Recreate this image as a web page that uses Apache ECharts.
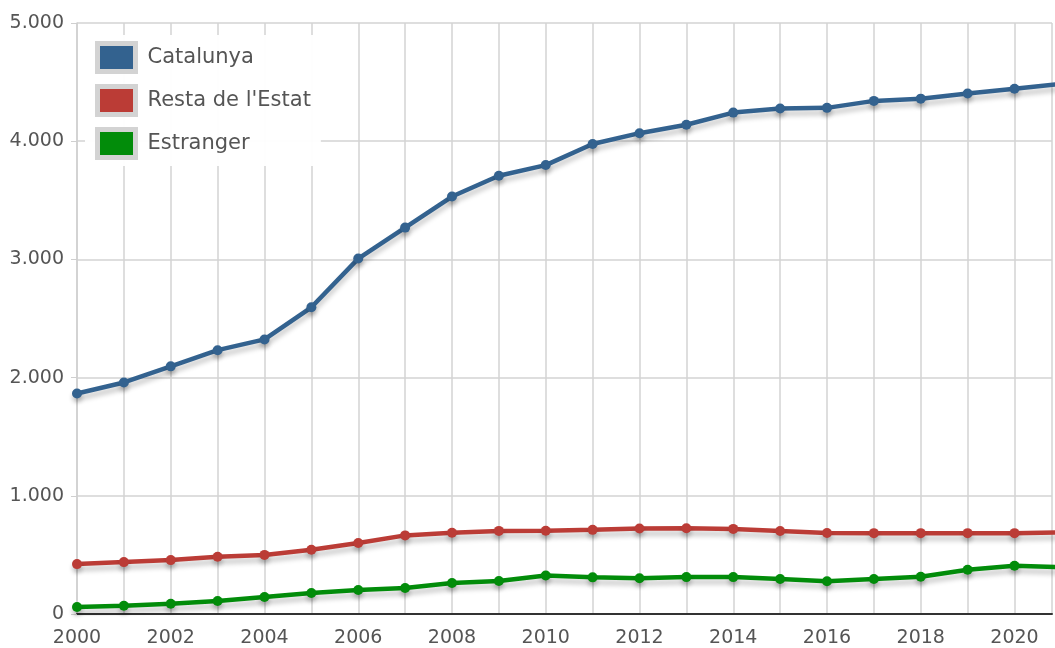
<!DOCTYPE html>
<html>
<head>
<meta charset="utf-8">
<script src="https://cdn.jsdelivr.net/npm/echarts@6/dist/echarts.min.js"></script>
<style>
html,body{margin:0;padding:0;background:#fff;}
#chart{width:1055px;height:648px;}
</style>
</head>
<body>
<div id="chart"></div>
<script>
const years = [2000,2001,2002,2003,2004,2005,2006,2007,2008,2009,2010,2011,2012,2013,2014,2015,2016,2017,2018,2019,2020,2021];
const catalunya = [1866,1959,2095,2232,2323,2595,3007,3269,3532,3708,3798,3976,4068,4139,4242,4276,4282,4341,4360,4403,4443,4485];
const restaEstat = [422,439,456,484,500,543,600,665,687,703,705,712,724,726,720,702,686,684,684,684,684,690];
const estranger = [59,70,87,110,144,177,203,220,262,279,326,310,302,312,312,296,277,296,315,375,408,395];
const seriesNames = ['Catalunya', "Resta de l'Estat", 'Estranger'];
const seriesColors = ['#33628f', '#bb3c36', '#028c0a'];
const seriesData = [catalunya, restaEstat, estranger];

function fmt(v){ return String(v).replace(/\B(?=(\d{3})+(?!\d))/g, '.'); }

const chart = echarts.init(document.getElementById('chart'), null, {renderer:'canvas'});
const font = 'DejaVu Sans, Verdana, sans-serif';

chart.setOption({
  animation: false,
  backgroundColor: '#fff',
  grid: {left: 77, right: 0, top: 23, bottom: 33, containLabel: false},
  legend: {
    orient: 'vertical', left: 85, top: 35,
    padding: [6, 10, 6, 10],
    backgroundColor: 'rgba(255,255,255,0.95)',
    itemWidth: 38, itemHeight: 28, itemGap: 10,
    icon: 'rect',
    itemStyle: {borderColor: '#d3d3d3', borderWidth: 5},
    textStyle: {fontFamily: font, fontSize: 21, color: '#555', padding: [0,0,0,7]},
    data: seriesNames
  },
  xAxis: {
    type: 'value', min: 2000, max: 2020.8, interval: 1,
    axisLine: {show: true, onZero: false, lineStyle: {color: '#333', width: 2}},
    axisTick: {show: false},
    splitLine: {show: true, lineStyle: {color: '#d3d3d3', width: 1.5}},
    axisLabel: {
      fontFamily: font, fontSize: 19, color: '#555', margin: 15,
      formatter: v => (Number.isInteger(v) && v % 2 === 0) ? String(v) : ''
    }
  },
  yAxis: {
    type: 'value', min: 0, max: 5000, interval: 1000,
    axisLine: {show: true, lineStyle: {color: '#cfcfcf', width: 1.5}},
    axisTick: {show: true, length: 6, lineStyle: {color: '#cfcfcf'}},
    splitLine: {show: true, lineStyle: {color: '#d3d3d3', width: 1.5}},
    axisLabel: {fontFamily: font, fontSize: 19, color: '#555', margin: 13, formatter: v => fmt(v)}
  },
  series: seriesNames.map((name, i) => ({
    name: name,
    type: 'line',
    data: years.map((y, j) => [y, seriesData[i][j]]),
    color: seriesColors[i],
    symbol: 'circle', symbolSize: 10,
    clip: true,
    lineStyle: {width: 4.5, color: seriesColors[i], shadowColor: 'rgba(0,0,0,0.22)', shadowBlur: 5, shadowOffsetY: 5},
    itemStyle: {color: seriesColors[i], shadowColor: 'rgba(0,0,0,0.22)', shadowBlur: 4, shadowOffsetY: 4},
    z: 3 - i
  }))
});
</script>
</body>
</html>
